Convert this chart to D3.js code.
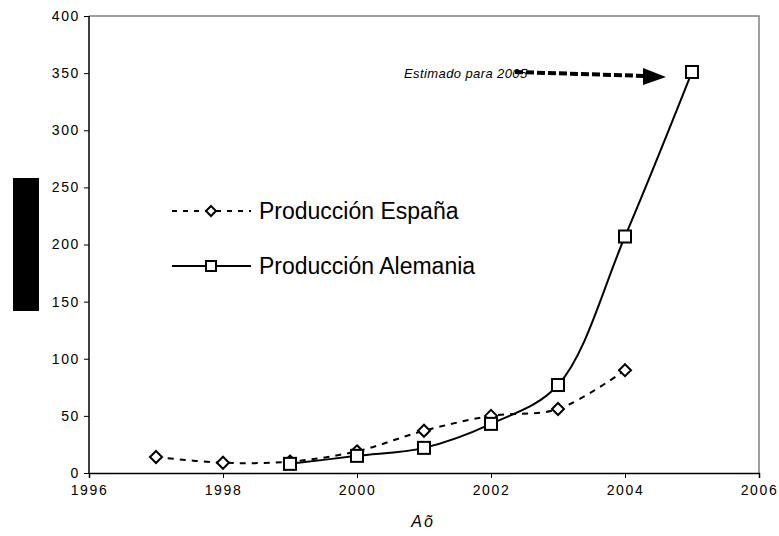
<!DOCTYPE html>
<html>
<head>
<meta charset="utf-8">
<script src="https://cdn.jsdelivr.net/npm/d3@7"></script>
<style>
  body { margin: 0; background: #fff; }
  svg { font-family: "Liberation Sans", Arial, sans-serif; }
</style>
</head>
<body>
<svg id="canvas"></svg>
<script>
const yearsSpain = [1997, 1998, 1999, 2000, 2001, 2002, 2003, 2004];
const valuesSpain = [14, 9, 10, 19, 37, 50, 56, 90];
const yearsGermany = [1999, 2000, 2001, 2002, 2003, 2004, 2005];
const valuesGermany = [8, 15, 22, 43, 77, 207, 351];
const xTicks = [1996, 1998, 2000, 2002, 2004, 2006];
const yTicks = [0, 50, 100, 150, 200, 250, 300, 350, 400];
const seriesNames = ["Producción España", "Producción Alemania"];
const annotationText = "Estimado para 2005";
const xLabel = "Aõ";

let width = 779, height = 536;
let margin = { top: 16, right: 20, bottom: 63, left: 89 };
let svg = d3.select("#canvas").attr("width", width).attr("height", height);

let xScale = d3.scaleLinear().domain([1996, 2006]).range([margin.left, 759]);
let yScale = d3.scaleLinear().domain([0, 400]).range([height - margin.bottom, margin.top]);

// plot frame (top/right in gray)
svg.append("path")
  .attr("d", `M${xScale(1996)},${yScale(400)}H${xScale(2006)}V${yScale(0)}`)
  .attr("fill", "none").attr("stroke", "#808080").attr("stroke-width", 1.5);

// axes
let axisY = d3.axisLeft(yScale).tickValues(yTicks).tickSize(5).tickPadding(4);
let gy = svg.append("g").attr("transform", `translate(${xScale(1996)},0)`).call(axisY);
let axisX = d3.axisBottom(xScale).tickValues(xTicks).tickFormat(d3.format("d")).tickSize(5).tickPadding(7);
let gx = svg.append("g").attr("transform", `translate(0,${yScale(0)})`).call(axisX);
[gx, gy].forEach((g) => {
  g.attr("font-size", 14).attr("font-family", "Liberation Sans, Arial, sans-serif");
  g.select(".domain").attr("stroke", "#000").attr("stroke-width", 1.5);
  g.selectAll("line").attr("stroke", "#000");
  g.selectAll("text").attr("fill", "#000").style("letter-spacing", "1.6px");
});
gy.select(".domain").attr("d", `M0,${yScale(400)}V${yScale(0)}`);

// black block where the y title sits
svg.append("rect").attr("x", 13).attr("y", 178).attr("width", 26).attr("height", 133).attr("fill", "#000");

// x title
svg.append("text").attr("x", 423).attr("y", 527).attr("text-anchor", "middle")
  .attr("font-size", 16).attr("font-style", "italic").style("letter-spacing", "2px").text(xLabel);

const spain = yearsSpain.map((y, i) => ({ x: y, v: valuesSpain[i] }));
const germany = yearsGermany.map((y, i) => ({ x: y, v: valuesGermany[i] }));

const lineGen = d3.line().x((d) => xScale(d.x)).y((d) => yScale(d.v)).curve(d3.curveCatmullRom.alpha(0.5));

svg.append("path").datum(germany).attr("d", lineGen)
  .attr("fill", "none").attr("stroke", "#000").attr("stroke-width", 2);
svg.append("path").datum(spain).attr("d", lineGen)
  .attr("fill", "none").attr("stroke", "#000").attr("stroke-width", 2).attr("stroke-dasharray", "6,6");

function diamond(g, cx, cy, r) {
  g.append("path").attr("d", `M${cx},${cy - r}L${cx + r},${cy}L${cx},${cy + r}L${cx - r},${cy}Z`)
    .attr("fill", "#fff").attr("stroke", "#000").attr("stroke-width", 2);
}
function square(g, cx, cy, r) {
  g.append("rect").attr("x", cx - r).attr("y", cy - r).attr("width", 2 * r).attr("height", 2 * r)
    .attr("fill", "#fff").attr("stroke", "#000").attr("stroke-width", 2);
}

spain.forEach((d) => diamond(svg, xScale(d.x), yScale(d.v), 6));
germany.forEach((d) => square(svg, xScale(d.x), yScale(d.v), 6));

// legend
let legend = svg.append("g");
[0, 1].forEach((i) => {
  let ly = 211 + i * 55;
  legend.append("line").attr("x1", 172).attr("x2", 251).attr("y1", ly).attr("y2", ly)
    .attr("stroke", "#000").attr("stroke-width", 2)
    .attr("stroke-dasharray", i === 0 ? "5,6" : null);
  if (i === 0) diamond(legend, 211, ly, 5); else square(legend, 211, ly, 5);
  legend.append("text").attr("x", 259).attr("y", ly + 8).attr("font-size", 23).text(seriesNames[i]);
});

// annotation
svg.append("text").attr("x", 404).attr("y", 78).attr("font-size", 13).attr("font-style", "italic")
  .style("letter-spacing", "0.4px").text(annotationText);
svg.append("line").attr("x1", 515).attr("y1", 72).attr("x2", 646).attr("y2", 76)
  .attr("stroke", "#000").attr("stroke-width", 4).attr("stroke-dasharray", "8,3");
svg.append("path").attr("d", "M643,68L666,77L643,85Z").attr("fill", "#000");
</script>
</body>
</html>
